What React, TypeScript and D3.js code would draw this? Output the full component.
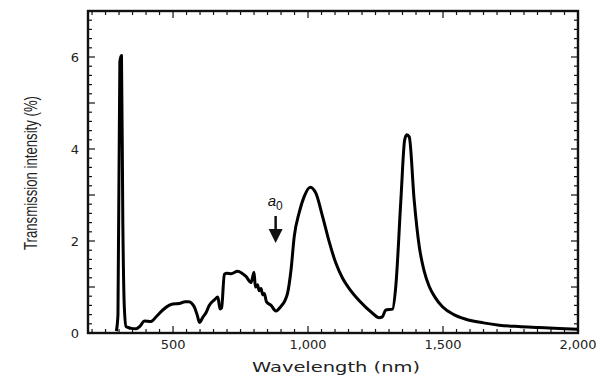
import React, { useEffect, useRef } from 'react';
import * as d3 from 'd3';

// wavelength (nm) and transmission intensity (%)
const wavelength = [
  290, 296, 303, 309, 314, 320, 326, 334, 345, 363, 378, 394, 418, 440, 462, 485, 499, 523, 545, 558, 570, 580,
  590, 598, 610, 622, 634, 653, 666, 674, 680, 690, 700, 715, 739, 755, 770, 789, 800, 805, 813, 819,
  826, 832, 838, 846, 863, 881, 900, 914, 924, 937, 949, 967, 986, 1008, 1029, 1054, 1078, 1103, 1128, 1152,
  1190, 1239, 1263, 1275, 1288, 1313, 1325, 1344, 1358, 1366, 1375, 1393, 1412, 1430, 1449, 1470, 1498, 1540, 1584, 1650,
  1708, 1780, 1856, 1930, 1998,
];
const intensity = [
  0.04, 0.4, 5.9, 6.03, 2.4, 0.5, 0.14, 0.12, 0.1, 0.09, 0.15, 0.26, 0.25, 0.37, 0.5, 0.6, 0.63, 0.64, 0.68, 0.68, 0.64, 0.55,
  0.38, 0.23, 0.34, 0.44, 0.6, 0.72, 0.78, 0.52, 0.55, 1.28, 1.3, 1.29, 1.34, 1.3, 1.23, 1.1, 1.32, 1.0, 1.05, 0.92,
  0.97, 0.83, 0.86, 0.68, 0.6, 0.48, 0.58, 0.7, 0.86, 1.37, 2.1, 2.61, 2.97, 3.17, 3.04, 2.53, 1.99, 1.52, 1.19, 0.97,
  0.7, 0.43, 0.33, 0.35, 0.5, 0.52, 1.01, 2.9, 4.2, 4.31, 4.26, 2.9, 1.88, 1.35, 1.01, 0.78, 0.57, 0.4, 0.3, 0.22,
  0.17, 0.14, 0.12, 0.1, 0.08,
];

const xTickLabels = [500, 1000, 1500, 2000];
const yTickLabels = [0, 2, 4, 6];

const App = () => {
  const svgRef = useRef<SVGSVGElement>(null);

  useEffect(() => {
    const svg = d3.select(svgRef.current);
    svg.selectAll('*').remove();

    const left = 88, right = 578, top = 11, bottom = 333;
    const x = d3.scaleLinear().domain([185, 2000]).range([left, right]);
    const y = d3.scaleLinear().domain([0, 7]).range([bottom, top]);

    const data = wavelength.map((w, i) => [w, intensity[i]] as [number, number]);

    // ticks: x every 50 nm, y every 0.2 %
    const xTicks = d3.range(200, 2001, 50);
    const yTicks = d3.range(0, 36).map(i => i / 5);

    const ticks = svg.append('g').attr('stroke', '#111').attr('stroke-width', 1.2);
    xTicks.forEach(v => {
      const len = v % 500 === 0 ? 7 : 4;
      ticks.append('line').attr('x1', x(v)).attr('x2', x(v)).attr('y1', bottom).attr('y2', bottom - len);
      ticks.append('line').attr('x1', x(v)).attr('x2', x(v)).attr('y1', top).attr('y2', top + len);
    });
    yTicks.forEach((v, i) => {
      const len = i % 5 === 0 ? 7 : 4;
      ticks.append('line').attr('y1', y(v)).attr('y2', y(v)).attr('x1', left).attr('x2', left + len);
      ticks.append('line').attr('y1', y(v)).attr('y2', y(v)).attr('x1', right).attr('x2', right - len);
    });

    // frame
    svg.append('rect')
      .attr('x', left).attr('y', top)
      .attr('width', right - left).attr('height', bottom - top)
      .attr('fill', 'none').attr('stroke', '#111').attr('stroke-width', 2.4);

    // spectrum
    const line = d3.line<[number, number]>()
      .x(d => x(d[0]))
      .y(d => y(d[1]))
      .curve(d3.curveMonotoneX);

    svg.append('path')
      .datum(data)
      .attr('d', line)
      .attr('fill', 'none')
      .attr('stroke', '#000')
      .attr('stroke-width', 3)
      .attr('stroke-linejoin', 'round');

    // tick labels
    svg.selectAll('.xlab').data(xTickLabels).join('text')
      .attr('class', 'xlab')
      .attr('x', d => x(d))
      .attr('y', 349)
      .attr('text-anchor', 'middle')
      .attr('font-family', 'DejaVu Sans, sans-serif')
      .attr('font-size', 13)
      .attr('fill', '#222')
      .text(d => d3.format(',')(d));

    svg.selectAll('.ylab').data(yTickLabels).join('text')
      .attr('class', 'ylab')
      .attr('x', 75)
      .attr('y', d => y(d) + 5)
      .attr('text-anchor', 'middle')
      .attr('font-family', 'DejaVu Sans, sans-serif')
      .attr('font-size', 13)
      .attr('fill', '#222')
      .text(d => d);

    // axis titles
    svg.append('text')
      .attr('x', 336)
      .attr('y', 372)
      .attr('text-anchor', 'middle')
      .attr('font-family', 'DejaVu Sans, sans-serif')
      .attr('font-size', 14.5)
      .attr('textLength', 168)
      .attr('lengthAdjust', 'spacingAndGlyphs')
      .attr('fill', '#222')
      .text('Wavelength (nm)');

    svg.append('text')
      .attr('transform', 'translate(37,173) rotate(-90)')
      .attr('text-anchor', 'middle')
      .attr('font-family', 'Liberation Sans Narrow, Liberation Sans, sans-serif')
      .attr('font-size', 18)
      .attr('textLength', 154)
      .attr('lengthAdjust', 'spacingAndGlyphs')
      .attr('fill', '#222')
      .text('Transmission intensity (%)');

    // a0 annotation with arrow
    const ax = x(880);
    const label = svg.append('text')
      .attr('x', ax - 8)
      .attr('y', 206)
      .attr('font-family', 'Liberation Sans, sans-serif')
      .attr('font-size', 15)
      .attr('fill', '#111');
    label.append('tspan').attr('font-style', 'italic').text('a');
    label.append('tspan').attr('dy', 4).attr('font-size', 12).text('0');

    svg.append('line')
      .attr('x1', ax).attr('x2', ax)
      .attr('y1', 216).attr('y2', 236)
      .attr('stroke', '#111').attr('stroke-width', 2.5);
    svg.append('path')
      .attr('d', `M${ax - 7},${229} L${ax + 7},${229} L${ax},${243} Z`)
      .attr('fill', '#111');
  }, []);

  return (
    <svg
      ref={svgRef}
      width={603}
      height={381}
      style={{ position: 'absolute', left: 0, top: 0, background: '#fff' }}
    />
  );
};

export default App;
